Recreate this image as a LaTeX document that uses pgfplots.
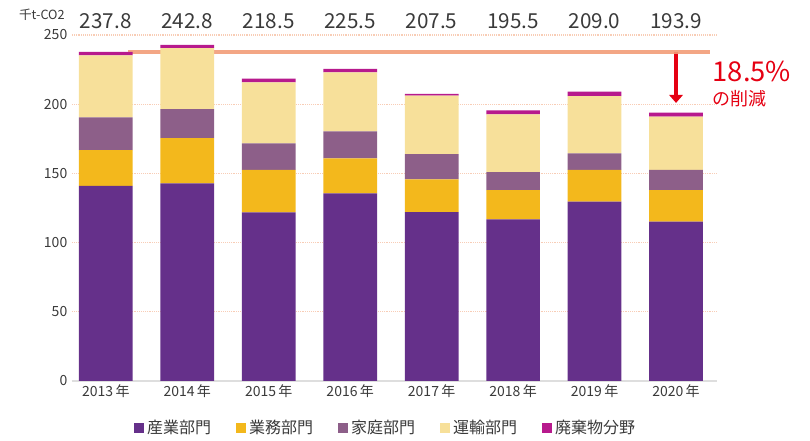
\documentclass[border=0pt]{standalone}
\usepackage{fontspec}
\setmainfont{Noto Sans CJK JP}
\usepackage{pgfplots}
\pgfplotsset{compat=1.18}
\usetikzlibrary{arrows.meta}
\definecolor{cA}{HTML}{65308A}
\definecolor{cB}{HTML}{F3B81C}
\definecolor{cC}{HTML}{8D5F89}
\definecolor{cD}{HTML}{F7E09A}
\definecolor{cE}{HTML}{B71A8D}
\definecolor{gridc}{HTML}{F8CDB6}
\definecolor{linec}{HTML}{F29C78}
\definecolor{redc}{HTML}{E50012}
\definecolor{txt}{HTML}{3A3A3A}
\begin{document}
\begin{tikzpicture}[x=1pt,y=1pt]
\useasboundingbox (-54,-45) rectangle (553.5,285.75);
\begin{axis}[
  at={(0,0)}, anchor=south west,
  width=483.75pt, height=259.5pt, scale only axis,
  ybar stacked, bar width=40.3pt,
  xmin=-0.415, xmax=7.503, ymin=0, ymax=250,
  xtick={0,...,7},
  xticklabels={2013\,年,2014\,年,2015\,年,2016\,年,2017\,年,2018\,年,2019\,年,2020\,年},
  ytick={0,50,...,250},
  axis x line*=bottom, axis y line*=left,
  x axis line style={draw=black!13, line width=1.1pt},
  y axis line style={draw=none},
  major tick length=0pt,
  ymajorgrids, major grid style={densely dotted, color=gridc, line width=0.9pt},
  tick label style={font=\fontsize{10.5}{12}\selectfont, text=txt},
  /pgf/number format/assume math mode=true,
  xticklabel style={yshift=1pt},
  clip=false,
  legend style={at={(0.487,-0.136)}, anchor=center, draw=none, fill=none,
    legend columns=5, font=\fontsize{12}{14}\selectfont, text=txt,
    /tikz/every even column/.append style={column sep=17pt}},
  legend image code/.code={\fill[#1] (0pt,-3.75pt) rectangle (7.5pt,3.75pt);},
]
\addplot[fill=cA, draw=none] coordinates {(0,141.0) (1,142.8) (2,121.9) (3,135.6) (4,122.1) (5,116.8) (6,129.6) (7,115.1)};
\addplot[fill=cB, draw=none] coordinates {(0,25.9) (1,32.6) (2,30.6) (3,25.3) (4,23.6) (5,21.2) (6,22.9) (7,22.9)};
\addplot[fill=cC, draw=none] coordinates {(0,23.6) (1,21.1) (2,19.2) (3,19.5) (4,18.3) (5,13.0) (6,12.0) (7,14.5)};
\addplot[fill=cD, draw=none] coordinates {(0,44.8) (1,44.1) (2,44.0) (3,42.6) (4,42.2) (5,41.7) (6,41.4) (7,38.5)};
\addplot[fill=cE, draw=none] coordinates {(0,2.5) (1,2.2) (2,2.8) (3,2.5) (4,1.3) (5,2.8) (6,3.1) (7,2.9)};
\legend{産業部門,業務部門,家庭部門,運輸部門,廃棄物分野}
% reference line and arrow
\draw[linec, line width=2.5pt, opacity=0.9] (axis cs:0.27,237.8) -- (axis cs:7.42,237.8);
\draw[redc, line width=2.4pt, -{Triangle[width=10pt,length=6pt]}] (axis cs:7,237.8) -- (axis cs:7,200.9);
\node[anchor=west, text=redc, font=\fontsize{20.5}{22}\selectfont, inner sep=0pt] at (rel axis cs:0.993,0.894) {18.5\%};
\node[anchor=west, text=redc, font=\fontsize{13.5}{15}\selectfont, inner sep=0pt] at (rel axis cs:0.993,0.817) {の削減};
% totals
\node[font=\fontsize{15.5}{17}\selectfont, text=txt] at (axis cs:0,260) {237.8};
\node[font=\fontsize{15.5}{17}\selectfont, text=txt] at (axis cs:1,260) {242.8};
\node[font=\fontsize{15.5}{17}\selectfont, text=txt] at (axis cs:2,260) {218.5};
\node[font=\fontsize{15.5}{17}\selectfont, text=txt] at (axis cs:3,260) {225.5};
\node[font=\fontsize{15.5}{17}\selectfont, text=txt] at (axis cs:4,260) {207.5};
\node[font=\fontsize{15.5}{17}\selectfont, text=txt] at (axis cs:5,260) {195.5};
\node[font=\fontsize{15.5}{17}\selectfont, text=txt] at (axis cs:6,260) {209.0};
\node[font=\fontsize{15.5}{17}\selectfont, text=txt] at (axis cs:7,260) {193.9};
\node[anchor=east, font=\fontsize{9.5}{11}\selectfont, text=txt, inner sep=0pt] at (rel axis cs:-0.011,1.058) {千t-CO2};
\end{axis}
\end{tikzpicture}
\end{document}
